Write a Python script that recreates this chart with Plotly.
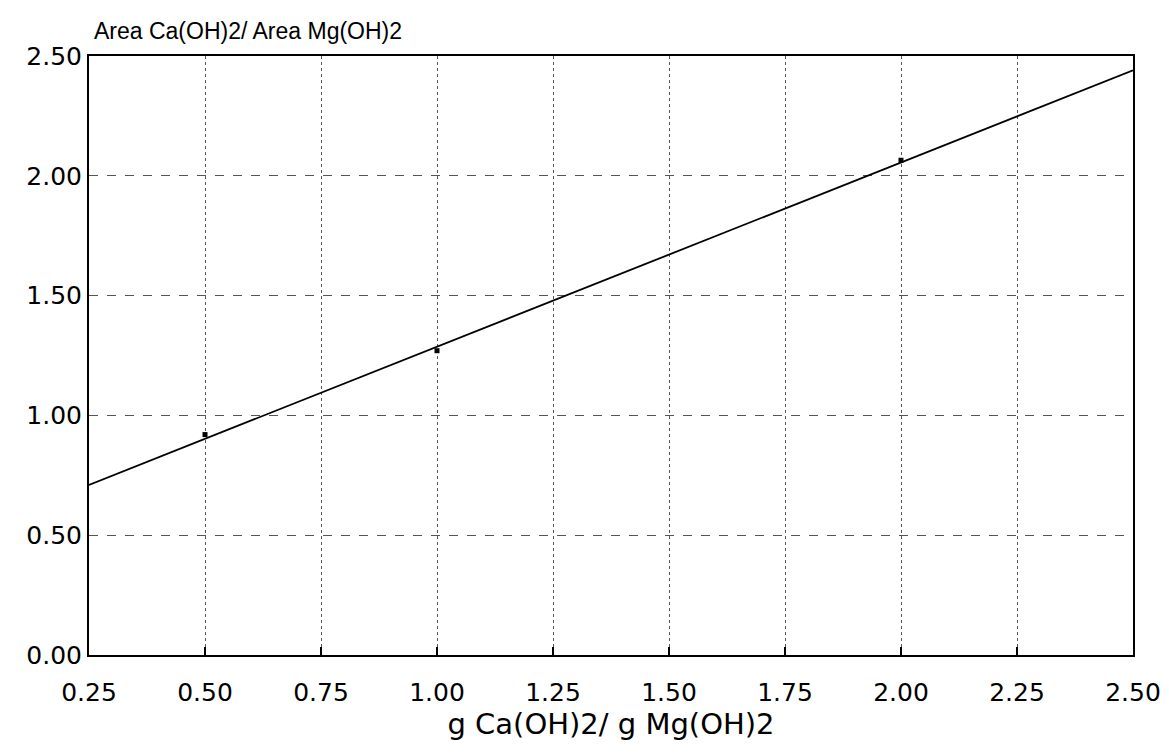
import plotly.graph_objects as go

# data
ratio_x = [0.5, 1.0, 2.0]
area_ratio_y = [0.92, 1.27, 2.065]
fit_x = [0.25, 2.5]
fit_y = [0.71, 2.44]
x_ticks = [0.25, 0.5, 0.75, 1.0, 1.25, 1.5, 1.75, 2.0, 2.25, 2.5]
y_ticks = [0.0, 0.5, 1.0, 1.5, 2.0, 2.5]

FONT = "DejaVu Sans"

fig = go.Figure()
fig.add_trace(go.Scatter(x=fit_x, y=fit_y, mode="lines",
                         line=dict(color="black", width=1.8), showlegend=False))
fig.add_trace(go.Scatter(x=ratio_x, y=area_ratio_y, mode="markers",
                         marker=dict(color="black", size=5, symbol="square"),
                         showlegend=False))

fig.update_layout(
    width=1169, height=754,
    margin=dict(l=89, r=36, t=56, b=99),
    paper_bgcolor="white", plot_bgcolor="white",
    font=dict(family=FONT, color="black", size=25),
    xaxis=dict(range=[0.25, 2.5], tickvals=x_ticks,
               ticktext=[f"{v:.2f}" for v in x_ticks],
               tickfont=dict(family=FONT, size=25, color="black"),
               showgrid=True, gridcolor="#555", gridwidth=1, griddash="dot",
               showline=True, linecolor="black", linewidth=2, mirror=True,
               ticks="inside", ticklen=8, tickwidth=2, tickcolor="black",
               ticklabelstandoff=14, zeroline=False, automargin=False,
               title=dict(text="g Ca(OH)2/ g Mg(OH)2", standoff=8,
                          font=dict(family=FONT, size=29, color="black"))),
    yaxis=dict(range=[0, 2.5], tickvals=y_ticks,
               ticktext=[f"{v:.2f}" for v in y_ticks],
               tickfont=dict(family=FONT, size=25, color="black"),
               showgrid=True, gridcolor="#555", gridwidth=1, griddash="dash",
               showline=True, linecolor="black", linewidth=2, mirror=True,
               ticks="", zeroline=False, automargin=False),
    annotations=[dict(text="Area Ca(OH)2/ Area Mg(OH)2", xref="paper", yref="paper",
                      x=0.003, y=1.0, xanchor="left", yanchor="bottom", yshift=10,
                      showarrow=False,
                      font=dict(family="Liberation Sans", size=23, color="black"))],
)

fig.write_html("out.html")
